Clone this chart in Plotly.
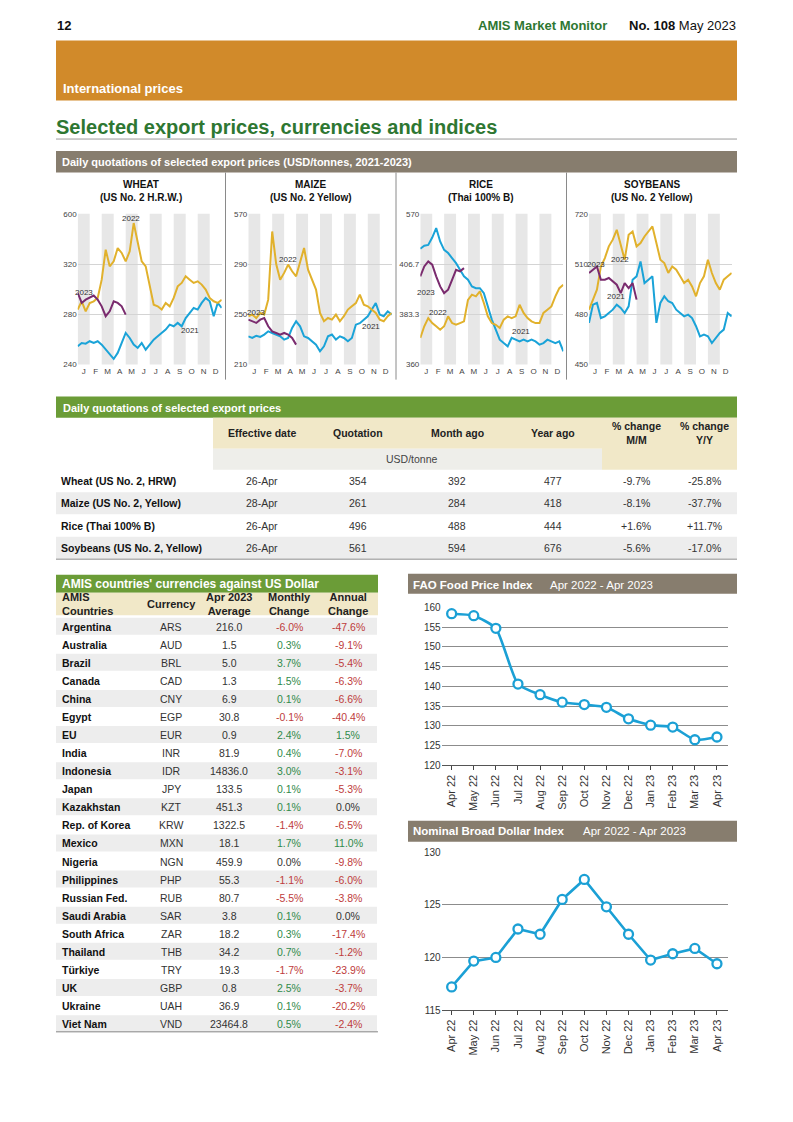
import plotly.graph_objects as go

W, H = 793, 1122
FONT = "Liberation Sans, Arial, Helvetica, sans-serif"

# ---------------- data ----------------
MONTH_LETTERS = ['J', 'F', 'M', 'A', 'M', 'J', 'J', 'A', 'S', 'O', 'N', 'D']
SERIES_YEARS = ['2021', '2022', '2023']

WHEAT_2021 = [254.6, 257.2, 256.7, 258.6, 257.2, 258.6, 255.9, 251.9, 248.0, 244.5, 249.3, 257.2, 265.2,
              261.2, 255.9, 253.3, 257.2, 251.9, 255.9, 259.9, 262.5, 265.2, 267.9, 271.8, 270.5, 273.2,
              270.5, 277.1, 281.1, 285.1, 283.8, 289.1, 293.1, 290.4, 278.5, 289.1, 285.1]
WHEAT_2022 = [283.8, 290.4, 282.4, 289.0, 290.4, 293.0, 307.6, 331.5, 318.2, 322.2, 332.8, 328.9, 322.2,
              330.2, 352.7, 336.8, 322.2, 318.2, 302.3, 287.7, 286.4, 283.8, 289.1, 286.4, 293.1, 302.3,
              305.0, 310.3, 307.6, 305.0, 306.3, 303.7, 299.7, 293.1, 290.4, 289.1, 291.7]
WHEAT_2023 = [297.1, 289.1, 291.7, 293.1, 295.0, 291.7, 286.4, 278.5, 282.4, 290.4, 289.1, 286.4, 279.8]

MAIZE_2021 = [232.5, 231.2, 233.0, 232.0, 233.9, 236.5, 235.2, 233.9, 232.5, 229.9, 231.2, 239.2, 244.5,
              240.5, 232.5, 231.2, 228.6, 225.9, 220.6, 224.6, 232.5, 233.9, 229.9, 232.5, 231.2, 228.6,
              231.2, 241.8, 243.0, 245.8, 248.5, 253.8, 259.0, 249.8, 248.5, 252.4, 249.8]
MAIZE_2022 = [248.5, 249.8, 247.1, 251.1, 249.8, 261.7, 316.0, 290.0, 277.6, 283.0, 289.6, 284.3, 280.3,
              292.0, 302.8, 285.6, 277.6, 269.7, 251.1, 244.5, 247.1, 245.8, 249.8, 244.5, 248.5, 253.8,
              256.4, 259.0, 265.7, 257.7, 256.4, 253.8, 251.1, 245.8, 244.5, 248.5, 251.1]
MAIZE_2023 = [245.8, 244.5, 243.2, 245.8, 247.1, 240.5, 236.5, 235.2, 233.9, 235.2, 233.9, 231.2, 225.9]

RICE_2021 = [413.8, 415.2, 415.6, 419.0, 423.4, 417.2, 413.3, 411.8, 409.5, 407.1, 404.0, 401.0, 399.4,
             396.3, 395.5, 395.5, 393.2, 387.0, 380.9, 376.2, 371.6, 370.0, 368.5, 372.4, 371.6, 370.8,
             371.6, 370.8, 371.6, 370.8, 369.3, 370.0, 371.6, 370.8, 370.0, 370.8, 366.2]
RICE_2022 = [372.4, 377.8, 381.6, 379.3, 377.8, 376.2, 377.8, 382.4, 379.3, 378.5, 379.3, 380.1, 390.1,
             392.5, 391.7, 394.0, 388.6, 382.4, 379.3, 378.5, 377.0, 380.9, 382.4, 381.6, 382.4, 387.8,
             384.0, 381.6, 380.1, 379.3, 379.3, 384.0, 385.5, 387.0, 391.7, 395.5, 397.1]
RICE_2023 = [401.0, 405.6, 407.9, 406.4, 401.0, 396.3, 393.2, 394.8, 399.4, 404.0, 403.3, 404.8]

SOY_2021 = [474.9, 485.8, 486.8, 477.8, 478.8, 480.8, 482.8, 485.8, 483.8, 480.8, 484.8, 500.7, 502.7,
            511.6, 498.7, 500.7, 502.7, 474.9, 486.8, 490.8, 487.8, 486.8, 482.8, 480.8, 478.8, 479.8,
            477.8, 472.9, 466.9, 467.9, 466.9, 462.9, 465.9, 468.9, 470.9, 480.8, 478.8]
SOY_2022 = [482.8, 488.8, 494.7, 508.6, 513.6, 520.6, 524.6, 530.5, 520.6, 512.6, 527.5, 529.5, 520.6,
            522.6, 526.5, 529.5, 532.5, 522.6, 512.6, 510.6, 504.7, 508.6, 506.7, 502.7, 498.7, 500.7,
            496.7, 490.8, 498.7, 502.7, 512.6, 504.7, 498.7, 494.7, 500.7, 502.7, 504.7]
SOY_2023 = [504.7, 506.7, 508.6, 500.7, 500.7, 501.7, 499.7, 497.7, 492.7, 498.7, 495.7, 498.7, 488.8]

WHEAT_TICKS = [240, 280, 320, 360]
WHEAT_TICKTEXT = ['240', '280', '320', '600']
MAIZE_TICKS = [210, 250, 290, 330]
MAIZE_TICKTEXT = ['210', '250', '290', '570']
RICE_TICKS = [360, 383.33, 406.67, 430]
RICE_TICKTEXT = ['360', '383.3', '406.7', '570']
SOY_TICKS = [450, 480, 510, 540]
SOY_TICKTEXT = ['450', '480', '510', '720']

PRODUCTS = ['Wheat (US No. 2, HRW)', 'Maize (US No. 2, Yellow)', 'Rice (Thai 100% B)', 'Soybeans (US No. 2, Yellow)']
EFFECTIVE_DATE = ['26-Apr', '28-Apr', '26-Apr', '26-Apr']
QUOTATION = [354, 261, 496, 561]
MONTH_AGO = [392, 284, 488, 594]
YEAR_AGO = [477, 418, 444, 676]
CHANGE_MM = ['-9.7%', '-8.1%', '+1.6%', '-5.6%']
CHANGE_YY = ['-25.8%', '-37.7%', '+11.7%', '-17.0%']

COUNTRIES = ['Argentina', 'Australia', 'Brazil', 'Canada', 'China', 'Egypt', 'EU', 'India', 'Indonesia',
             'Japan', 'Kazakhstan', 'Rep. of Korea', 'Mexico', 'Nigeria', 'Philippines', 'Russian Fed.',
             'Saudi Arabia', 'South Africa', 'Thailand', 'Türkiye', 'UK', 'Ukraine', 'Viet Nam']
CURRENCY = ['ARS', 'AUD', 'BRL', 'CAD', 'CNY', 'EGP', 'EUR', 'INR', 'IDR', 'JPY', 'KZT', 'KRW', 'MXN',
            'NGN', 'PHP', 'RUB', 'SAR', 'ZAR', 'THB', 'TRY', 'GBP', 'UAH', 'VND']
AVERAGE = [216.0, 1.5, 5.0, 1.3, 6.9, 30.8, 0.9, 81.9, 14836.0, 133.5, 451.3, 1322.5, 18.1, 459.9, 55.3,
           80.7, 3.8, 18.2, 34.2, 19.3, 0.8, 36.9, 23464.8]
MONTHLY_CHANGE = [-6.0, 0.3, 3.7, 1.5, 0.1, -0.1, 2.4, 0.4, 3.0, 0.1, 0.1, -1.4, 1.7, 0.0, -1.1, -5.5,
                  0.1, 0.3, 0.7, -1.7, 2.5, 0.1, 0.5]
ANNUAL_CHANGE = [-47.6, -9.1, -5.4, -6.3, -6.6, -40.4, 1.5, -7.0, -3.1, -5.3, 0.0, -6.5, 11.0, -9.8,
                 -6.0, -3.8, 0.0, -17.4, -1.2, -23.9, -3.7, -20.2, -2.4]

INDEX_MONTHS = ['Apr 22', 'May 22', 'Jun 22', 'Jul 22', 'Aug 22', 'Sep 22', 'Oct 22', 'Nov 22', 'Dec 22',
                'Jan 23', 'Feb 23', 'Mar 23', 'Apr 23']
FAO_INDEX = [158.4, 157.9, 154.7, 140.6, 137.9, 136.0, 135.4, 134.7, 131.8, 130.2, 129.7, 126.5, 127.2]
DOLLAR_INDEX = [117.2, 119.65, 120.0, 122.7, 122.2, 125.5, 127.4, 124.8, 122.2, 119.75, 120.35, 120.85, 119.4]

# ---------------- styles ----------------
C_2021 = '#1AA3D8'
C_2022 = '#E1B12C'
C_2023 = '#7A2B6E'
ORANGE = '#D18A2A'
BROWN = '#877D6E'
GREEN_BAR = '#6B9C37'
TITLE_GREEN = '#2E7732'
BEIGE = '#F1E8C8'
ROW_GRAY = '#EDEDED'
RED = '#BE3B3B'
POS_GREEN = '#2F8A4A'
BLUE = '#1BA0D5'

# vertical calibration of the page layout (page pixel -> figure pixel)
OY, SY = 6.5, 0.989

shapes = []
anns = []


def Yp(py):
    return 1 - ((py - OY) / SY) / H


def ax(i):
    s = '' if i == 1 else str(i)
    return 'x' + s, 'y' + s


def rect(x0, y0, x1, y1, fill):
    shapes.append(dict(type='rect', xref='paper', yref='paper', x0=x0 / W, x1=x1 / W,
                       y0=Yp(y1), y1=Yp(y0), fillcolor=fill, line=dict(width=0), layer='below'))


def hline(x0, x1, y, color, width=1):
    shapes.append(dict(type='line', xref='paper', yref='paper', x0=x0 / W, x1=x1 / W,
                       y0=Yp(y), y1=Yp(y), line=dict(color=color, width=width), layer='below'))


def vline(x, y0, y1, color, width=1):
    shapes.append(dict(type='line', xref='paper', yref='paper', x0=x / W, x1=x / W,
                       y0=Yp(y1), y1=Yp(y0), line=dict(color=color, width=width), layer='below'))


def text(x, y, s, size, color='#222', bold=False, anchor='left'):
    anns.append(dict(xref='paper', yref='paper', x=x / W, y=Yp(y),
                     text=f'<b>{s}</b>' if bold else s, showarrow=False, xanchor=anchor, align=anchor,
                     yanchor='middle', borderpad=0, font=dict(family=FONT, size=size, color=color)))


fig = go.Figure()

# ---------------- page header ----------------
text(56, 25.5, '12', 13, '#111', True)
text(608, 25.5, 'AMIS Market Monitor', 13, TITLE_GREEN, True, 'right')
text(737, 25.5, '<b>No. 108</b> May 2023', 13, '#111', False, 'right')
rect(56, 41, 737, 101, ORANGE)
text(62, 89, 'International prices', 13, 'white', True)
text(55, 127, 'Selected export prices, currencies and indices', 20, TITLE_GREEN, True)
hline(56, 737, 139.5, '#9a9a9a', 1)

# ---------------- small charts ----------------
rect(56, 151.5, 737, 173, BROWN)
text(61, 162.5, 'Daily quotations of selected export prices (USD/tonnes, 2021-2023)', 11, 'white', True)
for xv in (225.5, 396, 566.5):
    vline(xv, 173, 380, '#8a8a8a', 1)

panels = [
    ('WHEAT', '(US No. 2 H.R.W.)', [WHEAT_2021, WHEAT_2022, WHEAT_2023], WHEAT_TICKS, WHEAT_TICKTEXT,
     (77.7, 221.7), 140.5, [(4.44, 356.7), (9.36, 267.3), (0.5, 297.5)]),
    ('MAIZE', '(US No. 2 Yellow)', [MAIZE_2021, MAIZE_2022, MAIZE_2023], MAIZE_TICKS, MAIZE_TICKTEXT,
     (248.3, 391.7), 310.5, [(3.33, 294.0), (10.3, 240.0), (0.65, 251.6)]),
    ('RICE', '(Thai 100% B)', [RICE_2021, RICE_2022, RICE_2023], RICE_TICKS, RICE_TICKTEXT,
     (420.3, 563.3), 481, [(1.46, 384.0), (8.46, 375.5), (0.48, 393.5)]),
    ('SOYBEANS', '(US No. 2 Yellow)', [SOY_2021, SOY_2022, SOY_2023], SOY_TICKS, SOY_TICKTEXT,
     (589.0, 731.7), 651.5, [(2.6, 513.0), (2.3, 490.4), (0.6, 510.0)]),
]
# label order in panels list: 2022, 2021, 2023
STEP = 12 / 36
colors = [C_2021, C_2022, C_2023]
layout_axes = {}
for i, (name, sub, series, tv, tt, (x0, x1), cx, labs) in enumerate(panels, start=1):
    xa, ya = ax(i)
    text(cx, 184.5, name, 10, '#111', True, 'center')
    text(cx, 197.5, sub, 10, '#111', True, 'center')
    for j, vals in enumerate(series):
        fig.add_trace(go.Scatter(x=[k * STEP for k in range(len(vals))], y=vals, mode='lines',
                                 line=dict(color=colors[j], width=2.0), xaxis=xa, yaxis=ya,
                                 hoverinfo='skip', showlegend=False))
    for m in range(0, 12, 2):
        shapes.append(dict(type='rect', xref=xa, yref=f'{ya} domain', x0=m, x1=m + 1, y0=0, y1=1,
                           fillcolor='#E7E7E7', line=dict(width=0), layer='below'))
    for (lx, ly), lbl in zip(labs, ['2022', '2021', '2023']):
        anns.append(dict(xref=xa, yref=ya, x=lx, y=ly, text=lbl, showarrow=False,
                         xanchor='center', yanchor='middle', borderpad=0,
                         font=dict(family=FONT, size=8, color='#333')))
    layout_axes['xaxis' + xa[1:]] = dict(domain=[x0 / W, x1 / W], range=[0, 12], anchor=ya,
                                         tickvals=[m + 0.5 for m in range(12)], ticktext=MONTH_LETTERS,
                                         showgrid=False, zeroline=False, showline=False, ticks='',
                                         tickfont=dict(family=FONT, size=8, color='#444'), fixedrange=True)
    layout_axes['yaxis' + ya[1:]] = dict(domain=[Yp(365), Yp(214.3)], range=[tv[0], tv[-1]],
                                         anchor=xa, tickvals=tv, ticktext=tt, showgrid=True,
                                         gridcolor='#d4d4d4', gridwidth=0.8, zeroline=False, showline=False,
                                         ticks='', tickfont=dict(family=FONT, size=8, color='#444'),
                                         fixedrange=True)

# ---------------- daily quotations table ----------------
rect(56, 397, 737, 418, GREEN_BAR)
text(62, 408, 'Daily quotations of selected export prices', 11, 'white', True)
rect(213, 418, 602, 449, BEIGE)
rect(213, 449, 602, 470, '#EEEEEA')
rect(602, 418, 737, 470, BEIGE)
col_x = [262, 358, 457, 553, 636, 704]
heads = ['Effective date', 'Quotation', 'Month ago', 'Year ago', '% change<br>M/M', '% change<br>Y/Y']
for cxp, h in zip(col_x, heads):
    text(cxp, 433, h, 10.5, '#222', True, 'center')
text(412, 459, 'USD/tonne', 10.5, '#444', False, 'center')
row_y = [481, 503.5, 526, 548]
for r, yv in enumerate(row_y):
    if r % 2 == 1:
        rect(56, yv - 11, 737, yv + 11, ROW_GRAY)
    text(60, yv, PRODUCTS[r], 10.5, '#111', True)
    vals = [EFFECTIVE_DATE[r], str(QUOTATION[r]), str(MONTH_AGO[r]), str(YEAR_AGO[r]), CHANGE_MM[r], CHANGE_YY[r]]
    for cxp, v in zip(col_x, vals):
        text(cxp, yv, v, 10.5, '#333', False, 'center')
hline(56, 737, 559.5, '#8a8a8a', 1)

# ---------------- currency table ----------------
rect(56, 575, 378, 593, GREEN_BAR)
text(61, 584, "AMIS countries' currencies against US Dollar", 12, 'white', True)
rect(56, 593, 378, 615.5, BEIGE)
text(61, 604, 'AMIS<br>Countries', 11, '#222', True)
text(171, 604, 'Currency', 11, '#222', True, 'center')
text(229, 604, 'Apr 2023<br>Average', 11, '#222', True, 'center')
text(289, 604, 'Monthly<br>Change', 11, '#222', True, 'center')
text(348, 604, 'Annual<br>Change', 11, '#222', True, 'center')


def chg_color(v):
    if v > 0:
        return POS_GREEN
    if v < 0:
        return RED
    return '#333'


for r, country in enumerate(COUNTRIES):
    yv = 627 + 18.06 * r
    if r % 2 == 0:
        rect(56, yv - 9, 377, yv + 8, ROW_GRAY)
    text(61, yv, country, 10.5, '#111', True)
    text(171, yv, CURRENCY[r], 10.5, '#333', False, 'center')
    text(229, yv, f'{AVERAGE[r]:.1f}', 10.5, '#333', False, 'center')
    text(289, yv, f'{MONTHLY_CHANGE[r]:.1f}%', 10.5, chg_color(MONTHLY_CHANGE[r]), False, 'center')
    text(348, yv, f'{ANNUAL_CHANGE[r]:.1f}%', 10.5, chg_color(ANNUAL_CHANGE[r]), False, 'center')
hline(56, 378, 1032, '#8a8a8a', 1)

# ---------------- index charts ----------------
rect(408, 574, 737, 594, BROWN)
text(412, 585, 'FAO Food Price Index', 11.5, 'white', True)
text(549, 585, 'Apr 2022 - Apr 2023', 11.5, 'white')
rect(408, 821, 737, 842, BROWN)
text(412, 831.5, 'Nominal Broad Dollar Index', 11.5, 'white', True)
text(582, 831.5, 'Apr 2022 - Apr 2023', 11.5, 'white')

idx_charts = [(5, FAO_INDEX, (607.7, 765.7), [120, 160], 'spline'),
              (6, DOLLAR_INDEX, (852.3, 1010.3), [115, 130], 'linear')]
for i, vals, (yt, yb), yr, shape in idx_charts:
    xa, ya = ax(i)
    fig.add_trace(go.Scatter(x=INDEX_MONTHS, y=vals, mode='lines+markers',
                             line=dict(color=BLUE, width=2.6, shape=shape, smoothing=0.55),
                             marker=dict(size=9, color='white', line=dict(color=BLUE, width=2.3)),
                             xaxis=xa, yaxis=ya, cliponaxis=False, hoverinfo='skip',
                             showlegend=False))
    layout_axes['xaxis' + xa[1:]] = dict(domain=[441.7 / W, 728 / W], type='category', range=[-0.45, 12.5],
                                         anchor=ya, tickangle=-90, ticks='outside', ticklen=4,
                                         tickcolor='#444', showgrid=False, zeroline=False, showline=True,
                                         linecolor='#555', linewidth=1,
                                         tickfont=dict(family=FONT, size=11, color='#333'), fixedrange=True)
    layout_axes['yaxis' + ya[1:]] = dict(domain=[Yp(yb), Yp(yt)], range=yr, dtick=5, anchor=xa,
                                         showgrid=True, gridcolor='#8c8c8c', gridwidth=1, zeroline=False,
                                         showline=False, ticks='',
                                         tickfont=dict(family=FONT, size=10, color='#333'),
                                         fixedrange=True)

fig.update_layout(width=W, height=H, margin=dict(l=0, r=0, t=0, b=0), paper_bgcolor='white',
                  plot_bgcolor='rgba(0,0,0,0)', showlegend=False, shapes=shapes, annotations=anns,
                  font=dict(family=FONT), **layout_axes)

POST = ("var gd=document.getElementById('{plot_id}');"
        "gd.style.position='absolute';gd.style.top='0px';gd.style.left='0px';"
        "document.body.style.margin='0px';document.body.style.overflow='hidden';"
        "document.documentElement.style.overflow='hidden';")
fig.write_html('out.html', config={'displayModeBar': False}, post_script=POST)
